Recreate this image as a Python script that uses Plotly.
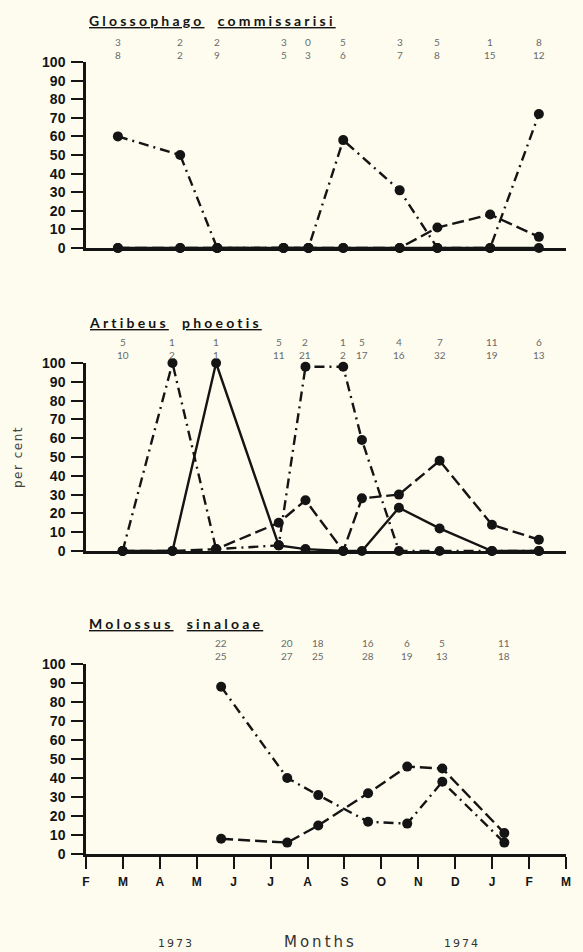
import plotly.graph_objects as go

# ---------------- data ----------------
month_labels = ["F", "M", "A", "M", "J", "J", "A", "S", "O", "N", "D", "J", "F", "M"]
month_ticks = list(range(len(month_labels)))

# Glossophaga commissarisi
m1 = [0.87, 2.57, 3.58, 5.39, 6.07, 7.02, 8.56, 9.59, 11.03, 12.36]
g_dashdot = [60, 50, 0, 0, 0, 58, 31, 0, 0, 72]
g_dashed = [0, 0, 0, 0, 0, 0, 0, 11, 18, 6]
g_solid = [0, 0, 0, 0, 0, 0, 0, 0, 0, 0]
n1_top = ["3", "2", "2", "3", "0", "5", "3", "5", "1", "8"]
n1_bot = ["8", "2", "9", "5", "3", "6", "7", "8", "15", "12"]

# Artibeus phaeotis
m2 = [1.0, 2.36, 3.55, 5.26, 5.99, 7.02, 7.53, 8.54, 9.65, 11.08, 12.36]
a_dashdot = [0, 100, 1, 3, 98, 98, 59, 0, 0, 0, 0]
a_solid = [0, 0, 100, 3, 1, 0, 0, 23, 12, 0, 0]
a_dashed = [0, 0, 1, 15, 27, 0, 28, 30, 48, 14, 6]
n2_top = ["5", "1", "1", "5", "2", "1", "5", "4", "7", "11", "6"]
n2_bot = ["10", "2", "1", "11", "21", "2", "17", "16", "32", "19", "13"]

# Molossus sinaloae
m3 = [3.66, 5.45, 6.29, 7.64, 8.70, 9.65, 11.33]
mo_dashdot = [88, 40, 31, 17, 16, 38, 6]
mo_dashed = [8, 6, 15, 32, 46, 45, 11]
n3_top = ["22", "20", "18", "16", "6", "5", "11"]
n3_bot = ["25", "27", "25", "28", "19", "13", "18"]

# ---------------- styles ----------------
BG = "#fdfcee"
INK = "#141414"
DASHDOT = "10px,5px,2px,5px"
DASHED = "12px,5px"
COUNT_FRAC = 1.075   # position of count labels, as fraction of panel height

W, H = 583, 952
x_dom = [86 / W, 566 / W]
dom1 = [1 - 248 / H, 1 - 62 / H]
dom2 = [1 - 551 / H, 1 - 363 / H]
dom3 = [1 - 854 / H, 1 - 664 / H]

fig = go.Figure()


def add_series(x, y, dash, xa, ya, width=2.4):
    fig.add_trace(go.Scatter(
        x=x, y=y, mode="lines+markers", xaxis=xa, yaxis=ya,
        line=dict(color=INK, width=width, dash=dash),
        marker=dict(color=INK, size=10),
        cliponaxis=False, showlegend=False, hoverinfo="x+y"))


count_annotations = []


def add_counts(x, top, bot, xa, dom):
    ypos = dom[0] + COUNT_FRAC * (dom[1] - dom[0])
    for xv, t, b in zip(x, top, bot):
        count_annotations.append(dict(
            x=xv, y=ypos, xref=xa, yref="paper", text=t + "<br>" + b,
            showarrow=False, xanchor="center", yanchor="middle",
            font=dict(family="Lato", size=10, color="#6a6a6a")))


# panel 1 (top) : x2 / y2
add_series(m1, g_solid, "solid", "x2", "y2")
add_series(m1, g_dashed, DASHED, "x2", "y2")
add_series(m1, g_dashdot, DASHDOT, "x2", "y2")
add_counts(m1, n1_top, n1_bot, "x2", dom1)

# panel 2 (middle) : x3 / y3
add_series(m2, a_solid, "solid", "x3", "y3")
add_series(m2, a_dashed, DASHED, "x3", "y3")
add_series(m2, a_dashdot, DASHDOT, "x3", "y3")
add_counts(m2, n2_top, n2_bot, "x3", dom2)

# panel 3 (bottom) : x / y
add_series(m3, mo_dashed, DASHED, "x", "y")
add_series(m3, mo_dashdot, DASHDOT, "x", "y")
add_counts(m3, n3_top, n3_bot, "x", dom3)

yaxis_common = dict(
    range=[0, 100], tickvals=list(range(0, 101, 10)),
    showline=True, linecolor=INK, linewidth=2.5,
    ticks="outside", ticklen=12, tickwidth=2, tickcolor=INK,
    ticklabelstandoff=3,
    tickfont=dict(family="Liberation Sans", size=14, color=INK, weight="bold"),
    showgrid=False, zeroline=False, automargin=False, fixedrange=True)

xaxis_top = dict(
    range=[0, 13.1], domain=x_dom, showline=True, linecolor=INK, linewidth=2.5,
    ticks="", showticklabels=False, showgrid=False, zeroline=False,
    automargin=False, fixedrange=True)

fig.update_layout(
    width=W, height=H,
    margin=dict(l=0, r=0, t=0, b=0),
    paper_bgcolor=BG, plot_bgcolor=BG,
    template="none",
    showlegend=False,
    xaxis=dict(
        range=[0, 13], domain=x_dom, anchor="y",
        tickvals=month_ticks, ticktext=month_labels,
        showline=True, linecolor=INK, linewidth=2.5,
        ticks="outside", ticklen=12, tickwidth=2, tickcolor=INK,
        ticklabelstandoff=3,
        tickfont=dict(family="Liberation Sans", size=12, color=INK, weight="bold"),
        showgrid=False, zeroline=False, automargin=False, fixedrange=True),
    yaxis=dict(domain=dom3, anchor="x", **yaxis_common),
    xaxis2=dict(anchor="y2", **xaxis_top),
    yaxis2=dict(domain=dom1, anchor="x2", **yaxis_common),
    xaxis3=dict(anchor="y3", **xaxis_top),
    yaxis3=dict(domain=dom2, anchor="x3", **yaxis_common),
)


def title(words, y_px):
    sp = '<span style="letter-spacing:3.2px">'
    txt = "&nbsp;&nbsp;".join("<u>" + w + "</u>" for w in words)
    return dict(
        text=sp + "<b>" + txt + "</b></span>",
        x=87 / W, y=1 - y_px / H, xref="paper", yref="paper",
        xanchor="left", yanchor="middle", showarrow=False,
        font=dict(family="Lato", size=14, color=INK))


annotations = [
    title(["Glossophago", "commissarisi"], 20),
    title(["Artibeus", "phoeotis"], 322),
    title(["Molossus", "sinaloae"], 623),
    dict(text='<span style="letter-spacing:1.5px">per cent</span>',
         x=18 / W, y=1 - 457 / H, xref="paper", yref="paper",
         textangle=-90, showarrow=False, xanchor="center", yanchor="middle",
         font=dict(family="DejaVu Sans", size=12, color="#444444")),
    dict(text='<span style="letter-spacing:2px">1973</span>',
         x=176 / W, y=1 - 943 / H, xref="paper", yref="paper",
         showarrow=False, xanchor="center", yanchor="middle",
         font=dict(family="DejaVu Sans", size=11, color="#333333")),
    dict(text='<span style="letter-spacing:3px">Months</span>',
         x=320 / W, y=1 - 942 / H, xref="paper", yref="paper",
         showarrow=False, xanchor="center", yanchor="middle",
         font=dict(family="DejaVu Sans", size=15, color="#333333")),
    dict(text='<span style="letter-spacing:2px">1974</span>',
         x=462 / W, y=1 - 943 / H, xref="paper", yref="paper",
         showarrow=False, xanchor="center", yanchor="middle",
         font=dict(family="DejaVu Sans", size=11, color="#333333")),
] + count_annotations
fig.update_layout(annotations=annotations)

fig.write_html(
    "out.html",
    config={"displayModeBar": False},
    post_script="document.body.style.margin='0';document.body.style.background='%s';" % BG,
)
